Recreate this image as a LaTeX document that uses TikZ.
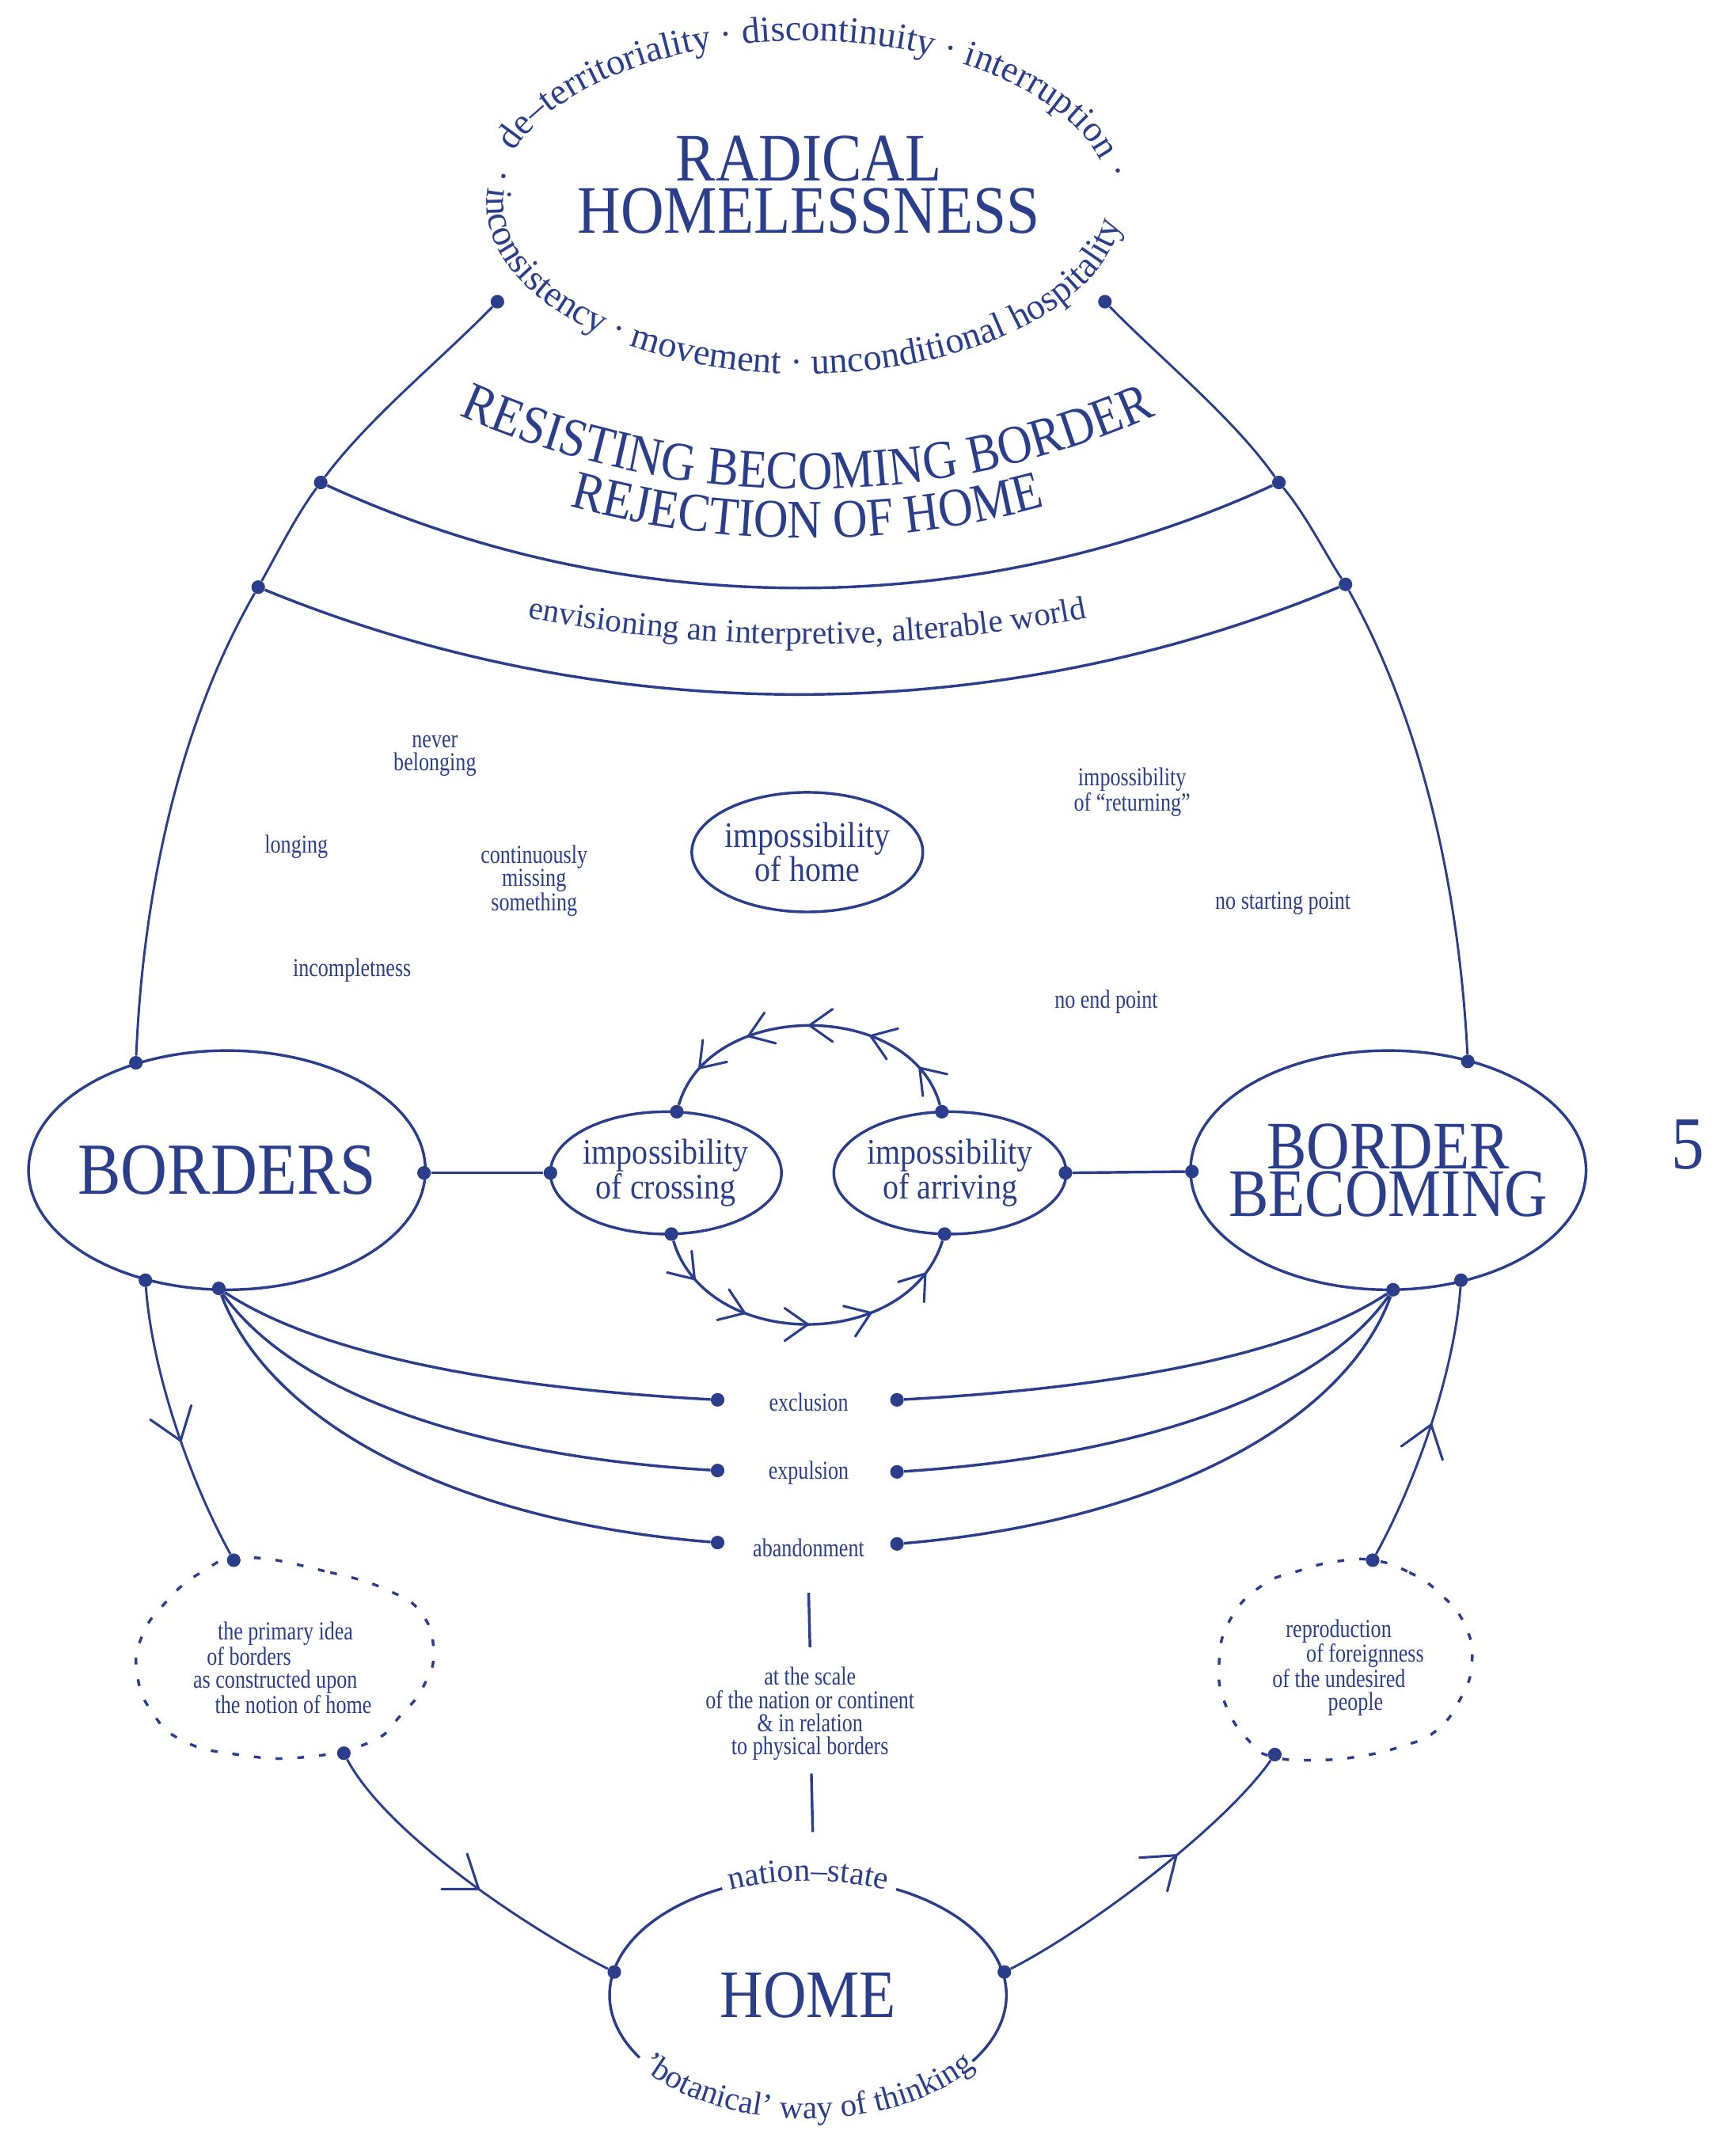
\documentclass[tikz,border=0pt]{standalone}
\usepackage{fontspec}
\setmainfont{Liberation Serif}
\newfontfamily\titlef[FakeStretch=0.88]{Liberation Serif}
\newfontfamily\smallf[FakeStretch=0.8]{Liberation Serif}
\usetikzlibrary{decorations.text,decorations.markings,shapes.geometric}
\definecolor{ink}{RGB}{42,62,140}
\tikzset{
  ln/.style={draw=ink, line width=2pt},
  thinln/.style={draw=ink, line width=1.7pt},
  elline/.style={draw=ink, line width=2pt},
  ell/.style={ellipse, draw=ink, line width=2pt, inner sep=-25pt, text=ink, align=center, font=\titlef\fontsize{26.5}{21}\selectfont},
  blob/.style={circle, fill=ink, inner sep=0pt, minimum size=10pt},
  ttl/.style={text=ink, align=center, inner sep=0pt},
  lbl/.style={text=ink, align=center, inner sep=0pt, font=\smallf\fontsize{19}{17}\selectfont},
  dashy/.style={draw=ink, line width=2pt, dash pattern=on 5pt off 11pt},
  chev/.style={postaction={decorate, decoration={markings, mark=at position #1 with {\draw[ink, line width=1.8pt, line cap=round] (-17pt,12pt) -- (0pt,0pt) -- (-17pt,-12pt);}}}},
  bigchev/.style={postaction={decorate, decoration={markings, mark=at position #1 with {\draw[ink, line width=1.8pt, line cap=round] (-22pt,16pt) -- (0pt,0pt) -- (-22pt,-16pt);}}}},
  ringtext/.style={decorate, decoration={text along path, text color=ink, text align=center, text={#1}}},
}
\begin{document}
\begin{tikzpicture}[x=1pt,y=-1pt]
\useasboundingbox (0,0) rectangle (1277,1568);

% ---------- top ----------
\node[ttl, font=\titlef\fontsize{50}{38}\selectfont] (rh) at (595,136) {RADICAL\\HOMELESSNESS};
\path[ringtext={|\fontsize{27}{27}\selectfont|de–territoriality · discontinuity · interruption ·}]
  (592,150) ++(180:226 and 120) arc[start angle=180, end angle=371, x radius=226, y radius=120];
\path[ringtext={|\fontsize{27}{27}\selectfont|· inconsistency · movement · unconditional hospitality}]
  (592,150) ++(205:234 and 125) arc[start angle=205, end angle=-7.4, x radius=234, y radius=125];
\path[ringtext={|\titlef\fontsize{40}{40}\selectfont|RESISTING BECOMING BORDER}]
  (594,-270) ++(120:630) arc[start angle=120, end angle=60, radius=630];
\path[ringtext={|\titlef\fontsize{40}{40}\selectfont|REJECTION OF HOME}]
  (594,-270) ++(120:666) arc[start angle=120, end angle=60, radius=666];
\path[ringtext={|\fontsize{24}{24}\selectfont|envisioning an interpretive, alterable world}]
  (594,-626) ++(103:1100) arc[start angle=103, end angle=77, radius=1100];

% ---------- main ellipses ----------
\node[ell, minimum width=292pt, minimum height=176pt, font=\titlef\fontsize{54}{54}\selectfont] (borders) at (167,861) {BORDERS};
\node[ell, minimum width=291pt, minimum height=176pt, font=\titlef\fontsize{50}{37}\selectfont] (bb) at (1021.5,861) {BORDER\\[-2pt]BECOMING};
\node[ell, minimum width=170pt, minimum height=90pt] (cross) at (490,863) {impossibility\\of crossing};
\node[ell, minimum width=171pt, minimum height=90pt] (arr) at (699,863) {impossibility\\of arriving};
\node[ell, minimum width=170pt, minimum height=88pt] (ihome) at (594,627) {impossibility\\of home};
\node[ttl, font=\titlef\fontsize{55}{55}\selectfont] (five) at (1242,842) {5};

% ---------- labels ----------
\node[lbl] (never) at (320,556) {never\\belonging};
\node[lbl] (longing) at (218,623) {longing};
\node[lbl] (cont) at (393,648) {continuously\\missing\\something};
\node[lbl] (incomp) at (259,714) {incompletness};
\node[lbl] (ret) at (833,583) {impossibility\\of “returning”};
\node[lbl] (nostart) at (944,665) {no starting point};
\node[lbl] (noend) at (814,737) {no end point};
\node[lbl] (excl) at (595,1032) {exclusion};
\node[lbl] (expu) at (595,1084) {expulsion};
\node[lbl] (aban) at (595,1139) {abandonment};
\node[lbl] (scale) at (596,1261) {at the scale\\of the nation or continent\\\& in relation\\to physical borders};
\node[lbl, align=left, anchor=west] (primary) at (142,1227) {\hspace*{18pt}the primary idea\\\hspace*{10pt}of borders\\as constructed upon\\\hspace*{16pt}the notion of home};
\node[lbl, align=left, anchor=west] (repro) at (936,1227) {\hspace*{10pt}reproduction\\\hspace*{25pt}of foreignness\\of the undesired\\\hspace*{41pt}people};

% ---------- dotted ellipses ----------
\draw[dashy] plot[smooth cycle, tension=0.8] coordinates {(181,1146) (243,1157) (285,1170) (310,1187) (319,1215) (312,1240) (295,1262) (272,1282) (223,1293) (175,1291) (135,1281) (112,1260) (101,1232) (104,1205) (121,1180) (148,1157)};
\draw[dashy] plot[smooth cycle, tension=0.8] coordinates {(1010,1148) (1037,1157) (1060,1173) (1078,1196) (1083,1224) (1074,1251) (1056,1274) (1031,1285) (1002,1292) (971,1295) (938,1293) (920,1282) (902,1255) (897,1224) (905,1192) (928,1167) (955,1156) (983,1149)};

% ---------- HOME ----------
\node[ttl, font=\titlef\fontsize{50}{50}\selectfont] (home) at (594.5,1468) {HOME};
\draw[elline] (home.center) ++(-63.6:146 and 87) arc[start angle=-63.6, end angle=34, x radius=146, y radius=87];
\draw[elline] (home.center) ++(148.1:146 and 87) arc[start angle=148.1, end angle=244.4, x radius=146, y radius=87];
\path[ringtext={|\fontsize{24}{24}\selectfont|nation–state}]
  (home.center) ++(232:146 and 84) arc[start angle=232, end angle=308, x radius=146, y radius=84];
\path[ringtext={|\fontsize{24}{24}\selectfont|'botanical' way of thinking}]
  (home.center) ++(165:151 and 91) arc[start angle=165, end angle=15, x radius=151, y radius=91];

% ---------- dots ----------
\node[blob] (rhL) at (366,222) {};
\node[blob] (rhR) at (813,222) {};
\node[blob] (l1) at (236,355) {};
\node[blob] (r1) at (941,355) {};
\node[blob] (l2) at (190,432) {};
\node[blob] (r2) at (990,430) {};
\node[blob] (bT) at (100,782) {};
\node[blob] (bR) at (312,863) {};
\node[blob] (bBL) at (107,942) {};
\node[blob] (bB) at (161,948) {};
\node[blob] (bbT) at (1080,781) {};
\node[blob] (bbL) at (877,862) {};
\node[blob] (bbB) at (1025,949) {};
\node[blob] (bbBR) at (1075,942) {};
\node[blob] (cL) at (405,863) {};
\node[blob] (cT) at (498,818) {};
\node[blob] (cB) at (494,908) {};
\node[blob] (aR) at (784,863) {};
\node[blob] (aT) at (693,818) {};
\node[blob] (aB) at (695,908) {};
\node[blob] (exL1) at (528,1030) {};
\node[blob] (exL2) at (528,1082) {};
\node[blob] (exL3) at (528,1135) {};
\node[blob] (exR1) at (660,1030) {};
\node[blob] (exR2) at (660,1083) {};
\node[blob] (exR3) at (660,1136) {};
\node[blob] (dlT) at (172,1148) {};
\node[blob] (dlB) at (253,1290) {};
\node[blob] (drT) at (1010,1148) {};
\node[blob] (drB) at (938,1291) {};
\node[blob] (hL) at (452,1451) {};
\node[blob] (hR) at (739,1451) {};
\coordinate (v1) at (595,1172);
\coordinate (v2) at (596,1212);
\coordinate (v3) at (597,1305);
\coordinate (v4) at (598,1348);

% ---------- connectors ----------
\draw[thinln] (rhL) .. controls (324,265) and (272,307) .. (l1);
\draw[thinln] (l1) .. controls (218,379) and (203,409) .. (l2);
\draw[thinln] (l2) .. controls (130,536) and (105,662) .. (bT);
\draw[thinln] (rhR) .. controls (855,265) and (907,307) .. (r1);
\draw[thinln] (r1) .. controls (961,379) and (976,409) .. (r2);
\draw[thinln] (r2) .. controls (1049,536) and (1074,662) .. (bbT);

\draw[ln] (l1) .. controls (459.5,457.8) and (717.5,457.8) .. (r1);
\draw[ln] (l2) .. controls (446,537) and (734,537) .. (r2);

\draw[ln] (bR) -- (cL);
\draw[ln] (aR) -- (bbL);

\draw[ln, chev=0.13, chev=0.31, chev=0.5, chev=0.69, chev=0.87] (aT) .. controls (670,735) and (522,735) .. (cT);
\draw[ln, chev=0.13, chev=0.31, chev=0.5, chev=0.69, chev=0.89] (cB) .. controls (520,995) and (668,995) .. (aB);

\draw[ln] (bB) .. controls (240,1000) and (380,1022) .. (exL1);
\draw[ln] (bB) .. controls (220,1030) and (360,1072) .. (exL2);
\draw[ln] (bB) .. controls (200,1050) and (340,1120) .. (exL3);
\draw[ln] (bbB) .. controls (948,1000) and (808,1022) .. (exR1);
\draw[ln] (bbB) .. controls (968,1030) and (828,1072) .. (exR2);
\draw[ln] (bbB) .. controls (988,1050) and (848,1120) .. (exR3);

\draw[thinln, bigchev=0.56] (bBL) .. controls (112,1010) and (140,1090) .. (dlT);
\draw[thinln, bigchev=0.5] (drT) .. controls (1042,1090) and (1070,1010) .. (bbBR);
\draw[thinln, bigchev=0.55] (dlB) .. controls (285,1350) and (390,1420) .. (hL);
\draw[thinln, bigchev=0.6] (hR) .. controls (800,1420) and (900,1345) .. (drB);

\draw[ln] (v1) -- (v2);
\draw[ln] (v3) -- (v4);
\end{tikzpicture}
\end{document}
